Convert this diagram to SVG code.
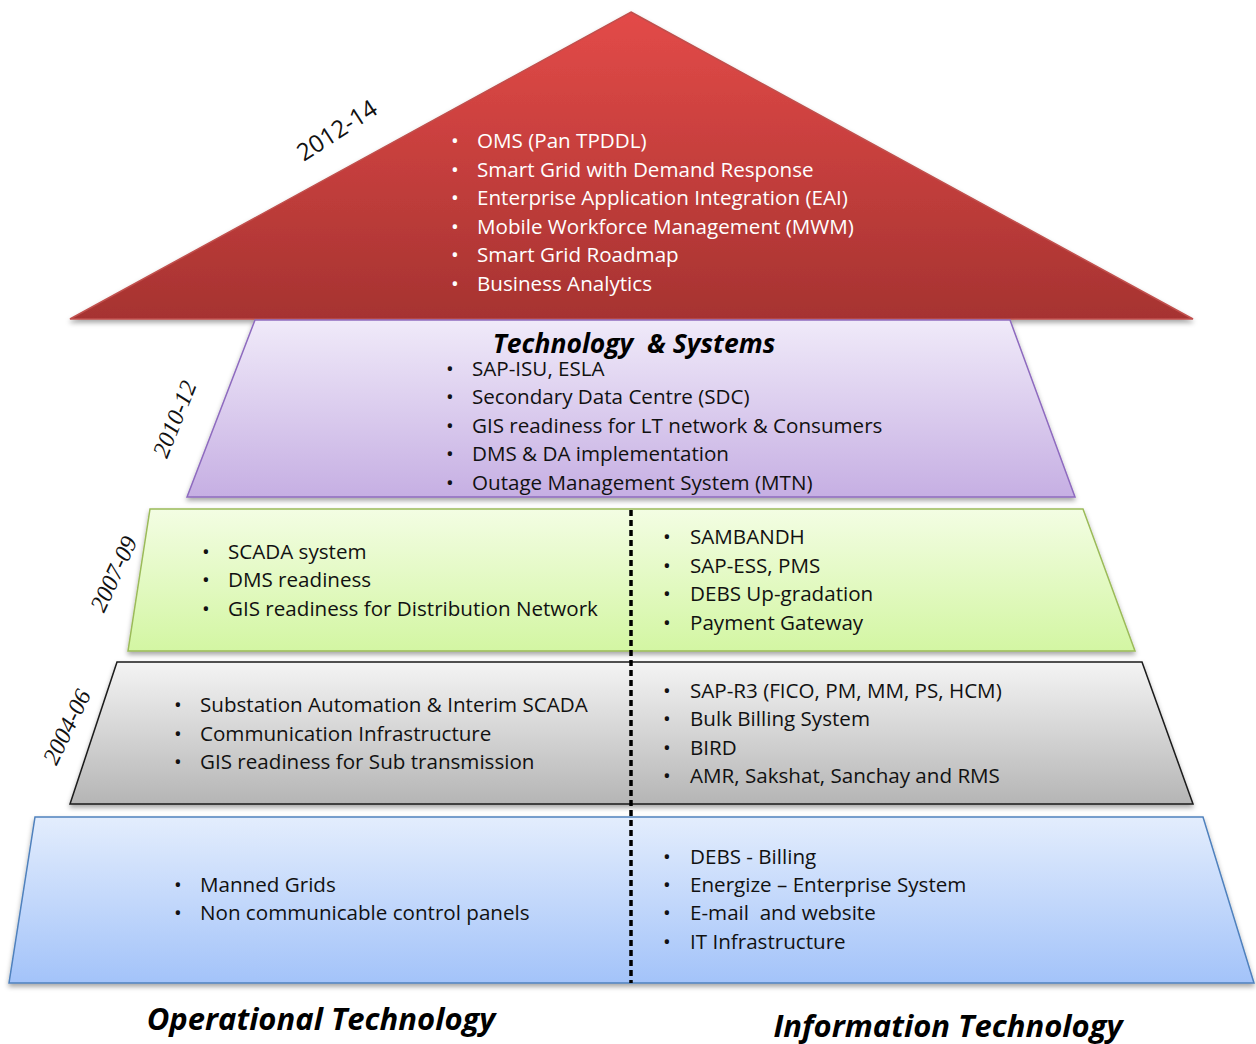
<svg xmlns="http://www.w3.org/2000/svg" width="1256" height="1044" viewBox="0 0 1256 1044">
<defs>
<linearGradient id="gRed" x1="0" y1="0" x2="0" y2="1"><stop offset="0" stop-color="#e34a48"/><stop offset="1" stop-color="#a63331"/></linearGradient>
<linearGradient id="gPur" x1="0" y1="0" x2="0" y2="1"><stop offset="0" stop-color="#f0eaf9"/><stop offset="1" stop-color="#c6afe3"/></linearGradient>
<linearGradient id="gGrn" x1="0" y1="0" x2="0" y2="1"><stop offset="0" stop-color="#f3fde3"/><stop offset="1" stop-color="#d3f6a3"/></linearGradient>
<linearGradient id="gGry" x1="0" y1="0" x2="0" y2="1"><stop offset="0" stop-color="#f4f4f4"/><stop offset="1" stop-color="#b5b5b5"/></linearGradient>
<linearGradient id="gBlu" x1="0" y1="0" x2="0" y2="1"><stop offset="0" stop-color="#e3edfd"/><stop offset="1" stop-color="#a3c3f9"/></linearGradient>
<filter id="sh" x="-5%" y="-5%" width="110%" height="120%"><feDropShadow dx="0" dy="3" stdDeviation="2.5" flood-color="#000" flood-opacity="0.35"/></filter>
<style>
.t{font-family:"Open Sans","Liberation Sans",sans-serif;font-size:20.6px;fill:#111}
.w{fill:#ffffff}
.yr{font-family:"Liberation Serif","DejaVu Serif",serif;font-style:italic;font-size:24px;fill:#111}
.yr2{font-family:"Open Sans","Liberation Sans",sans-serif;font-size:24px;fill:#111}
.h{font-family:"Open Sans","Liberation Sans",sans-serif;font-weight:bold;font-style:italic;fill:#000}
.div{stroke:#000;stroke-width:3.5;stroke-dasharray:6,4;fill:none}
</style>
</defs>

<g id="layer-2012-14">
<polygon points="631,12 1193,319 70,319" fill="url(#gRed)" stroke="#c0504d" stroke-width="1.5" filter="url(#sh)"/>
<text class="yr2" transform="translate(338,132) rotate(-33)" text-anchor="middle" dominant-baseline="middle">2012-14</text>
<g class="t w">
<text x="451" y="148">•</text><text x="477" y="148">OMS (Pan TPDDL)</text>
<text x="451" y="177">•</text><text x="477" y="177">Smart Grid with Demand Response</text>
<text x="451" y="205">•</text><text x="477" y="205">Enterprise Application Integration (EAI)</text>
<text x="451" y="234">•</text><text x="477" y="234">Mobile Workforce Management (MWM)</text>
<text x="451" y="262">•</text><text x="477" y="262">Smart Grid Roadmap</text>
<text x="451" y="291">•</text><text x="477" y="291">Business Analytics</text>
</g>
</g>

<g id="layer-2010-12">
<polygon points="255,320 1010,320 1075,497 187,497" fill="url(#gPur)" stroke="#8e6bbf" stroke-width="1.5" filter="url(#sh)"/>
<text class="yr" transform="translate(177,420) rotate(-68)" text-anchor="middle" dominant-baseline="middle">2010-12</text>
<text class="h" x="634" y="353" font-size="26.5" text-anchor="middle">Technology&#160; &amp; Systems</text>
<g class="t">
<text x="446" y="376">•</text><text x="472" y="376">SAP-ISU, ESLA</text>
<text x="446" y="404">•</text><text x="472" y="404">Secondary Data Centre (SDC)</text>
<text x="446" y="433">•</text><text x="472" y="433">GIS readiness for LT network &amp; Consumers</text>
<text x="446" y="461">•</text><text x="472" y="461">DMS &amp; DA implementation</text>
<text x="446" y="490">•</text><text x="472" y="490">Outage Management System (MTN)</text>
</g>
</g>

<g id="layer-2007-09">
<polygon points="150,509 1083,509 1135,651 128,651" fill="url(#gGrn)" stroke="#9bbb59" stroke-width="1.5" filter="url(#sh)"/>
<text class="yr" transform="translate(116,575) rotate(-65)" text-anchor="middle" dominant-baseline="middle">2007-09</text>
<g class="t">
<text x="202" y="559">•</text><text x="228" y="559">SCADA system</text>
<text x="202" y="587">•</text><text x="228" y="587">DMS readiness</text>
<text x="202" y="616">•</text><text x="228" y="616">GIS readiness for Distribution Network</text>
<text x="663" y="544">•</text><text x="690" y="544">SAMBANDH</text>
<text x="663" y="573">•</text><text x="690" y="573">SAP-ESS, PMS</text>
<text x="663" y="601">•</text><text x="690" y="601">DEBS Up-gradation</text>
<text x="663" y="630">•</text><text x="690" y="630">Payment Gateway</text>
</g>
</g>

<g id="layer-2004-06">
<polygon points="117,662 1142,662 1193,804 70,804" fill="url(#gGry)" stroke="#1a1a1a" stroke-width="1.5" filter="url(#sh)"/>
<text class="yr" transform="translate(69,728) rotate(-64)" text-anchor="middle" dominant-baseline="middle">2004-06</text>
<g class="t">
<text x="174" y="712">•</text><text x="200" y="712">Substation Automation &amp; Interim SCADA</text>
<text x="174" y="741">•</text><text x="200" y="741">Communication Infrastructure</text>
<text x="174" y="769">•</text><text x="200" y="769">GIS readiness for Sub transmission</text>
<text x="663" y="698">•</text><text x="690" y="698">SAP-R3 (FICO, PM, MM, PS, HCM)</text>
<text x="663" y="726">•</text><text x="690" y="726">Bulk Billing System</text>
<text x="663" y="755">•</text><text x="690" y="755">BIRD</text>
<text x="663" y="783">•</text><text x="690" y="783">AMR, Sakshat, Sanchay and RMS</text>
</g>
</g>

<g id="layer-base">
<polygon points="35,817 1203,817 1254,983 9,983" fill="url(#gBlu)" stroke="#4f81bd" stroke-width="1.5" filter="url(#sh)"/>
<g class="t">
<text x="174" y="892">•</text><text x="200" y="892">Manned Grids</text>
<text x="174" y="920">•</text><text x="200" y="920">Non communicable control panels</text>
<text x="663" y="864">•</text><text x="690" y="864">DEBS - Billing</text>
<text x="663" y="892">•</text><text x="690" y="892">Energize – Enterprise System</text>
<text x="663" y="920">•</text><text x="690" y="920" xml:space="preserve">E-mail  and website</text>
<text x="663" y="949">•</text><text x="690" y="949">IT Infrastructure</text>
</g>
</g>

<g id="connectors">
<line class="div" x1="631" y1="510" x2="631" y2="983"/>
</g>

<g id="labels">
<text class="h" x="321" y="1030" font-size="31" text-anchor="middle">Operational Technology</text>
<text class="h" x="948" y="1037" font-size="31" text-anchor="middle">Information Technology</text>
</g>
</svg>
